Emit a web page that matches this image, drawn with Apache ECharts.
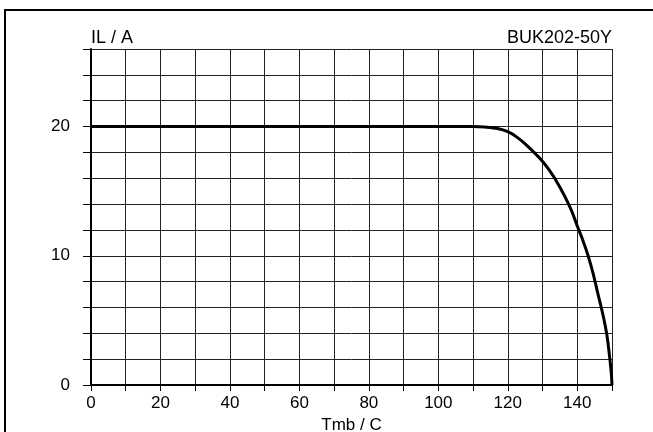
<!DOCTYPE html>
<html><head><meta charset="utf-8">
<script src="https://cdn.jsdelivr.net/npm/echarts@6/dist/echarts.min.js"></script>
<style>html,body{margin:0;padding:0;background:#fff}#c{width:653px;height:432px}</style>
</head><body><div id="c"></div>
<script>
const temps = [0, 110, 114, 117, 120, 123, 126, 129, 132, 135, 138, 140, 142, 144, 146, 147.5, 148.5, 149.3, 149.8, 150];
const current = [20, 20, 19.95, 19.85, 19.6, 19.1, 18.4, 17.6, 16.6, 15.3, 13.7, 12.3, 10.9, 9.2, 7.0, 5.3, 3.9, 2.2, 0.9, 0];
const xTickLabels = [0, 20, 40, 60, 80, 100, 120, 140];
const yTickLabels = [0, 10, 20];
const xName = 'Tmb / C';
const yName = 'IL / A';
const partName = 'BUK202-50Y';

const chart = echarts.init(document.getElementById('c'), null, {renderer: 'canvas'});
const font = 'Liberation Sans, Arial, sans-serif';
const lineCol = '#222';
chart.setOption({
  animation: false,
  grid: {left: 91, right: 41, top: 49, bottom: 47, containLabel: false, outerBoundsMode: 'none'},
  xAxis: {
    type: 'value', min: 0, max: 150, interval: 10,
    name: xName, nameLocation: 'middle', nameGap: 30,
    nameTextStyle: {color: '#000', fontFamily: font, fontSize: 17},
    axisLine: {show: true, onZero: false, lineStyle: {color: '#000', width: 2}},
    axisTick: {show: true, length: 6, lineStyle: {color: '#000', width: 1}},
    axisLabel: {color: '#000', fontFamily: font, fontSize: 17, margin: 10,
      formatter: v => xTickLabels.includes(v) ? String(v) : ''},
    splitLine: {show: true, lineStyle: {color: lineCol, width: 1}}
  },
  yAxis: {
    type: 'value', min: 0, max: 26, interval: 2,
    axisLine: {show: true, onZero: false, lineStyle: {color: '#000', width: 2}},
    axisTick: {show: true, length: 8, lineStyle: {color: '#000', width: 1}},
    axisLabel: {color: '#000', fontFamily: font, fontSize: 17, margin: 21,
      formatter: v => yTickLabels.includes(v) ? String(v) : ''},
    splitLine: {show: true, lineStyle: {color: lineCol, width: 1}}
  },
  graphic: [
    {type: 'rect', shape: {x: 5, y: 10, width: 700, height: 500}, style: {fill: 'none', stroke: '#000', lineWidth: 2}, silent: true},
    {type: 'text', x: 91, y: 38, style: {text: yName, fill: '#000', font: '18px Liberation Sans, Arial, sans-serif', align: 'left', verticalAlign: 'middle'}},
    {type: 'text', x: 612, y: 38, style: {text: partName, fill: '#000', font: '18px Liberation Sans, Arial, sans-serif', align: 'right', verticalAlign: 'middle'}}
  ],
  series: [{
    type: 'line', symbol: 'none', smooth: 0.5, smoothConstraint: false,
    data: temps.map((t, i) => [t, current[i]]),
    lineStyle: {color: '#000', width: 3}
  }]
});
</script></body></html>
